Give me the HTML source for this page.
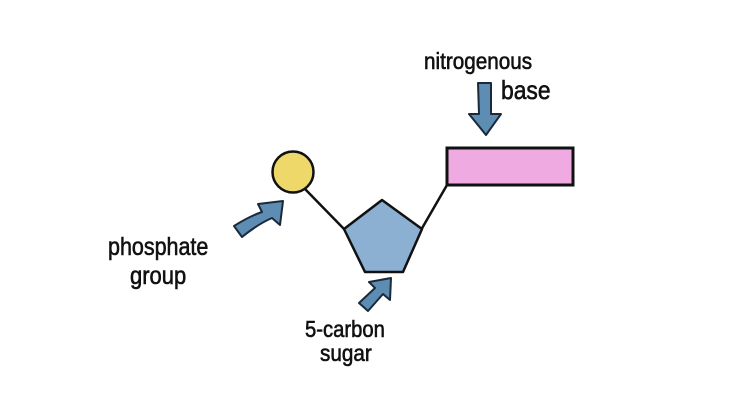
<!DOCTYPE html>
<html><head><meta charset="utf-8"><style>
html,body{margin:0;padding:0;background:#fff;}
svg{display:block;}
text{font-family:"Liberation Sans",sans-serif;fill:#111;stroke:#111;stroke-width:0.6;}
</style></head><body>
<svg width="735" height="400" viewBox="0 0 735 400" xmlns="http://www.w3.org/2000/svg">
<rect width="735" height="400" fill="#fff"/>
<line x1="305" y1="189" x2="345" y2="230" stroke="#111" stroke-width="2.5"/>
<line x1="421" y1="230" x2="447" y2="185" stroke="#111" stroke-width="2.5"/>
<circle cx="293" cy="172" r="20.5" fill="#eed86a" stroke="#111" stroke-width="2.5"/>
<polygon points="382,200 344,229 365,272 403,272 422,229" fill="#8bb0d2" stroke="#111" stroke-width="2.5" stroke-linejoin="round"/>
<rect x="447" y="148" width="126" height="37" fill="#f0aae2" stroke="#111" stroke-width="3"/>
<!-- nitro arrow -->
<path d="M478,83 L491,83 L491,114 L501,114 L486,135 L469,114 L479,114 Z" fill="#5e8db3" stroke="#1a2a3a" stroke-width="2" stroke-linejoin="round"/>
<!-- phosphate arrow -->
<path d="M234,226 Q250,216 262,212 L258,204 L283,201 L280,225 L272,218 Q258,224 242,237 Z" fill="#5e8db3" stroke="#1a2a3a" stroke-width="2" stroke-linejoin="round"/>
<!-- sugar arrow -->
<path d="M359,303 L375,288 L369,282 L391,278 L390,300 L383,294 L368,311 Z" fill="#5e8db3" stroke="#1a2a3a" stroke-width="2" stroke-linejoin="round"/>
<text x="424" y="69" font-size="23" transform="translate(424 0) scale(0.9 1) translate(-424 0)">nitrogenous</text>
<text x="501" y="99" font-size="26" transform="translate(501 0) scale(0.88 1) translate(-501 0)">base</text>
<text x="108" y="255" font-size="25" transform="translate(108 0) scale(0.86 1) translate(-108 0)">phosphate</text>
<text x="130" y="284" font-size="25" transform="translate(130 0) scale(0.88 1) translate(-130 0)">group</text>
<text x="305" y="337" font-size="23" transform="translate(305 0) scale(0.88 1) translate(-305 0)">5-carbon</text>
<text x="320" y="361" font-size="23" transform="translate(320 0) scale(0.9 1) translate(-320 0)">sugar</text>
</svg>
</body></html>
